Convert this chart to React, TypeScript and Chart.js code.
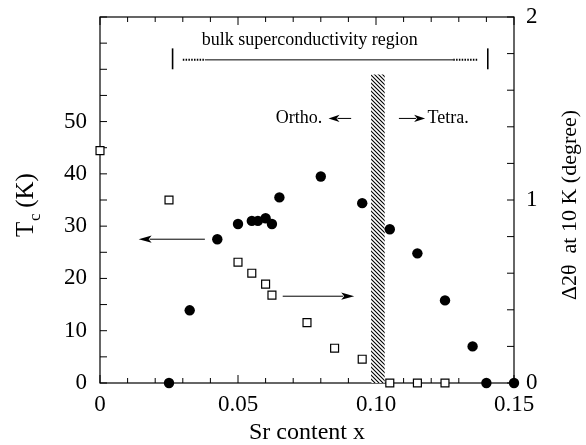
import React, { useEffect, useRef } from 'react';
import { Chart, registerables } from 'chart.js';
Chart.register(...registerables);

// Tc (K) data, filled circles (left axis)
const srDots = [0.025, 0.0325, 0.0425, 0.05, 0.055, 0.0572, 0.06, 0.0623, 0.065, 0.08, 0.095, 0.105, 0.115, 0.125, 0.135, 0.14, 0.15];
const tcDots = [0, 13.9, 27.5, 30.4, 31.0, 31.0, 31.5, 30.4, 35.5, 39.5, 34.4, 29.4, 24.8, 15.8, 7.0, 0, 0];

// Δ2θ at 10 K (degree), open squares (right axis)
const srSquares = [0, 0.025, 0.05, 0.055, 0.06, 0.0623, 0.075, 0.085, 0.095, 0.105, 0.115, 0.125];
const deltaSquares = [1.27, 1.0, 0.66, 0.6, 0.54, 0.48, 0.33, 0.19, 0.13, 0, 0, 0];

// axis ranges / tick labels
const xRange = [0, 0.15];
const tcRange = [0, 70];
const deltaRange = [0, 2];
const xLabelValues = [0, 0.05, 0.1, 0.15];
const xLabelTexts = ['0', '0.05', '0.10', '0.15'];
const tcLabelValues = [0, 10, 20, 30, 40, 50];
const deltaLabelValues = [0, 1, 2];

// ortho/tetra boundary (hatched), in x and Tc units
const boundaryX = [0.0982, 0.1032];
const boundaryTop = 59;

// annotations (x, Tc units)
const bulkText = 'bulk superconductivity region';
const bulkTextPos = [0.076, 65.6];
const bulkBarsX = [0.0263, 0.1405];
const bulkBarsTc = [60.0, 64.0];
const bulkLineTc = 61.8;
const bulkDotted1 = [0.030, 0.038];
const bulkSolid = [0.038, 0.128];
const bulkDotted2 = [0.128, 0.137];

const arrowFrom = [[0.038, 27.5], [0.0662, 16.6], [0.091, 50.6], [0.1083, 50.6]];
const arrowTo = [[0.014, 27.5], [0.0921, 16.6], [0.0828, 50.6], [0.1178, 50.6]];
const orthoText = 'Ortho.';
const orthoPos = [0.0805, 50.6];
const tetraText = 'Tetra.';
const tetraPos = [0.1187, 50.6];

const SERIF = '"Liberation Serif", "Times New Roman", serif';

function makeHatch(): CanvasPattern | string {
  const c = document.createElement('canvas');
  c.width = 4; c.height = 4;
  const g = c.getContext('2d');
  if (!g) return '#555';
  g.fillStyle = '#fff';
  g.fillRect(0, 0, 4, 4);
  g.strokeStyle = '#000';
  g.lineWidth = 1.1;
  g.beginPath();
  g.moveTo(-1, -1); g.lineTo(5, 5);
  g.moveTo(-1, 3); g.lineTo(1, 5);
  g.moveTo(3, -1); g.lineTo(5, 1);
  g.stroke();
  return g.createPattern(c, 'repeat') || '#555';
}

const decor = {
  id: 'decor',
  beforeDatasetsDraw(chart: any) {
    const { ctx, chartArea: a, scales } = chart;
    const sx = scales.x, sy = scales.y, sy2 = scales.y2;
    ctx.save();
    ctx.strokeStyle = '#000';
    ctx.fillStyle = '#000';
    const line = (x1: number, y1: number, x2: number, y2: number) => {
      ctx.beginPath(); ctx.moveTo(x1, y1); ctx.lineTo(x2, y2); ctx.stroke();
    };
    // frame
    ctx.lineWidth = 1.2;
    ctx.strokeRect(a.left, a.top, a.right - a.left, a.bottom - a.top);
    // x ticks (inward, top and bottom)
    ctx.lineWidth = 1;
    sx.ticks.forEach((t: any, i: number) => {
      const px = sx.getPixelForTick(i);
      const major = Math.round(t.value * 100) % 5 === 0;
      const L = major ? 8 : 5;
      line(px, a.bottom, px, a.bottom - L);
      line(px, a.top, px, a.top + L);
    });
    sy.ticks.forEach((t: any, i: number) => {
      const py = sy.getPixelForTick(i);
      line(a.left, py, a.left + 7, py);
    });
    sy2.ticks.forEach((t: any, i: number) => {
      const py = sy2.getPixelForTick(i);
      line(a.right, py, a.right - 7, py);
    });

    // left title T_c (K)
    const cy = (a.top + a.bottom) / 2 + 5;
    ctx.save();
    ctx.translate(25, cy);
    ctx.rotate(-Math.PI / 2);
    ctx.textBaseline = 'alphabetic';
    ctx.textAlign = 'left';
    ctx.font = `25px ${SERIF}`;
    const wT = ctx.measureText('T').width;
    const wK = ctx.measureText(' (K)').width;
    ctx.font = `17px ${SERIF}`;
    const wc = ctx.measureText('c').width;
    const total = wT + wc + wK;
    const x0 = -total / 2;
    ctx.font = `25px ${SERIF}`;
    ctx.fillText('T', x0, 8);
    ctx.font = `17px ${SERIF}`;
    ctx.fillText('c', x0 + wT + 0.5, 15);
    ctx.font = `25px ${SERIF}`;
    ctx.fillText(' (K)', x0 + wT + wc, 8);
    ctx.restore();

    // right title
    ctx.save();
    ctx.translate(570, cy);
    ctx.rotate(-Math.PI / 2);
    ctx.textAlign = 'center';
    ctx.textBaseline = 'middle';
    ctx.font = `22px ${SERIF}`;
    ctx.fillText('\u03942\u03B8  at 10 K (degree)', 0, 0);
    ctx.restore();

    // bulk superconductivity annotation
    const X = (v: number) => sx.getPixelForValue(v);
    const Y = (v: number) => sy.getPixelForValue(v);
    ctx.font = `18px ${SERIF}`;
    ctx.textAlign = 'center';
    ctx.textBaseline = 'middle';
    ctx.fillText(bulkText, X(bulkTextPos[0]), Y(bulkTextPos[1]));
    ctx.lineWidth = 1.6;
    bulkBarsX.forEach((bx) => line(X(bx), Y(bulkBarsTc[0]), X(bx), Y(bulkBarsTc[1])));
    ctx.lineWidth = 1;
    line(X(bulkSolid[0]), Y(bulkLineTc), X(bulkSolid[1]), Y(bulkLineTc));
    ctx.lineWidth = 2;
    ctx.setLineDash([1.5, 1.3]);
    line(X(bulkDotted1[0]), Y(bulkLineTc), X(bulkDotted1[1]), Y(bulkLineTc));
    line(X(bulkDotted2[0]), Y(bulkLineTc), X(bulkDotted2[1]), Y(bulkLineTc));
    ctx.setLineDash([]);

    // arrows
    ctx.lineWidth = 1;
    arrowFrom.forEach((f, i) => {
      const t = arrowTo[i];
      const x1 = X(f[0]), y1 = Y(f[1]), x2 = X(t[0]), y2 = Y(t[1]);
      const dx = x2 - x1, dy = y2 - y1;
      const len = Math.hypot(dx, dy);
      const ux = dx / len, uy = dy / len;
      const hl = i < 2 ? 13 : 11, hw = 3.6;
      const bx = x2 - ux * hl, by = y2 - uy * hl;
      line(x1, y1, bx + ux * 2, by + uy * 2);
      ctx.beginPath();
      ctx.moveTo(x2, y2);
      ctx.lineTo(bx - uy * hw, by + ux * hw);
      ctx.lineTo(bx + ux * 3, by + uy * 3);
      ctx.lineTo(bx + uy * hw, by - ux * hw);
      ctx.closePath();
      ctx.fill();
    });

    ctx.font = `18px ${SERIF}`;
    ctx.textBaseline = 'middle';
    ctx.textAlign = 'right';
    ctx.fillText(orthoText, X(orthoPos[0]), Y(orthoPos[1]));
    ctx.textAlign = 'left';
    ctx.fillText(tetraText, X(tetraPos[0]), Y(tetraPos[1]));

    ctx.restore();
  },
};

export default function App() {
  const ref = useRef<HTMLCanvasElement | null>(null);
  useEffect(() => {
    if (!ref.current) return;
    const hatch = makeHatch();
    const tickFont = { family: SERIF, size: 23 };
    const chart = new Chart(ref.current, {
      type: 'scatter',
      data: {
        datasets: [
          {
            label: 'Tc',
            data: srDots.map((x, i) => ({ x, y: tcDots[i] })),
            yAxisID: 'y',
            pointStyle: 'circle',
            pointRadius: 5.2,
            backgroundColor: '#000',
            borderColor: '#000',
            borderWidth: 0,
            clip: false,
          } as any,
          {
            label: 'delta',
            data: srSquares.map((x, i) => ({ x, y: deltaSquares[i] })),
            yAxisID: 'y2',
            pointStyle: 'rect',
            pointRadius: 5.6,
            backgroundColor: '#fff',
            borderColor: '#000',
            borderWidth: 1.2,
            clip: false,
          } as any,
          {
            type: 'line',
            label: 'boundary',
            data: boundaryX.map((x) => ({ x, y: boundaryTop })),
            yAxisID: 'y',
            fill: 'origin',
            backgroundColor: hatch,
            borderWidth: 0,
            pointRadius: 0,
          } as any,
        ],
      },
      options: {
        animation: false,
        responsive: true,
        maintainAspectRatio: false,
        layout: { padding: { top: 17, left: 0, right: 0, bottom: 0 } },
        plugins: { legend: { display: false }, tooltip: { enabled: false } },
        events: [],
        scales: {
          x: {
            type: 'linear',
            min: xRange[0],
            max: xRange[1],
            grid: { display: false, drawTicks: false },
            border: { display: false },
            ticks: {
              stepSize: 0.01,
              autoSkip: false,
              maxRotation: 0,
              padding: 8,
              color: '#000',
              font: tickFont,
              callback: (v: any) => {
                const idx = xLabelValues.findIndex((lv) => Math.abs(lv - v) < 1e-6);
                return idx >= 0 ? xLabelTexts[idx] : '';
              },
            },
            title: {
              display: true,
              text: 'Sr content x',
              color: '#000',
              font: { family: SERIF, size: 24, lineHeight: 1 },
              padding: 0,
            },
            afterFit: (s: any) => { s.height = 62; s.paddingLeft = 0; s.paddingRight = 0; },
          },
          y: {
            type: 'linear',
            position: 'left',
            min: tcRange[0],
            max: tcRange[1],
            grid: { display: false, drawTicks: false },
            border: { display: false },
            ticks: {
              stepSize: 5,
              autoSkip: false,
              padding: 13,
              color: '#000',
              font: tickFont,
              callback: (v: any) => (tcLabelValues.includes(v) ? String(v) : ''),
            },
            afterFit: (s: any) => { s.width = 100; s.paddingTop = 0; s.paddingBottom = 0; },
          },
          y2: {
            type: 'linear',
            position: 'right',
            min: deltaRange[0],
            max: deltaRange[1],
            grid: { display: false, drawTicks: false },
            border: { display: false },
            ticks: {
              stepSize: 0.2,
              autoSkip: false,
              padding: 12,
              color: '#000',
              font: tickFont,
              callback: (v: any) => {
                const idx = deltaLabelValues.findIndex((lv) => Math.abs(lv - v) < 1e-6);
                return idx >= 0 ? String(deltaLabelValues[idx]) : '';
              },
            },
            afterFit: (s: any) => { s.width = 72; s.paddingTop = 0; s.paddingBottom = 0; },
          },
        },
      } as any,
      plugins: [decor],
    });
    return () => chart.destroy();
  }, []);
  return (
    <div style={{ position: 'fixed', left: 0, top: 0, width: 586, height: 445, background: '#fff' }}>
      <canvas ref={ref} />
    </div>
  );
}
